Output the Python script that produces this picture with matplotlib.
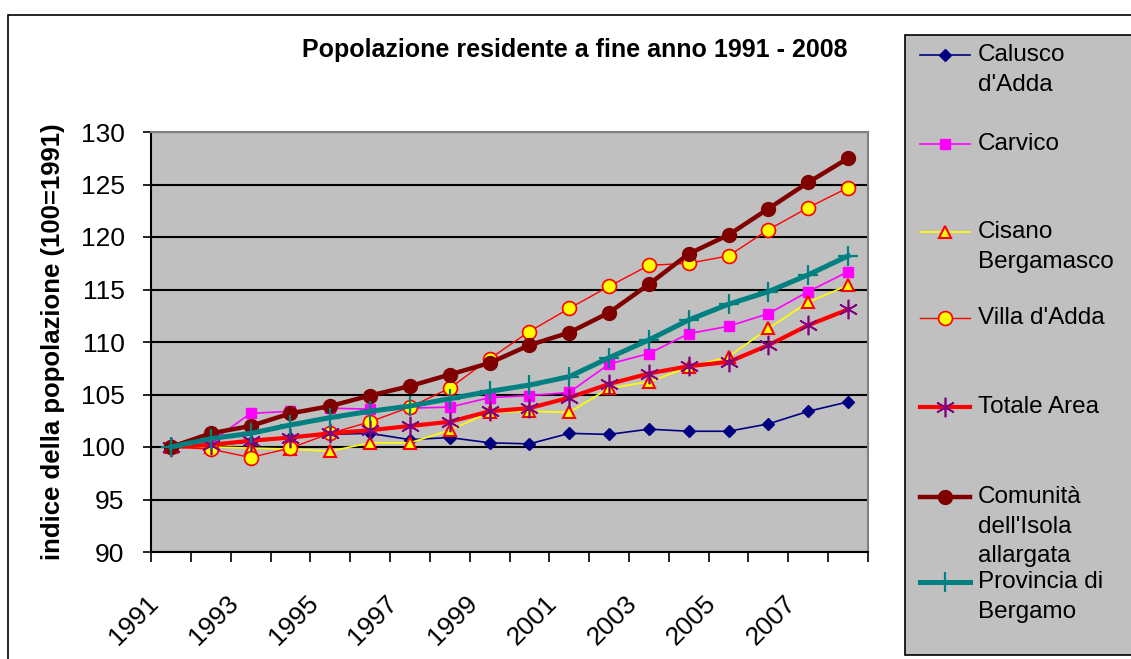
import numpy as np
import matplotlib
matplotlib.use("Agg")
import matplotlib.pyplot as plt
from matplotlib.lines import Line2D
from matplotlib.patches import Rectangle
from matplotlib.transforms import ScaledTranslation

plt.rcParams['font.family'] = ['Liberation Sans', 'DejaVu Sans']

# dati: indice della popolazione (100 = 1991)
years = list(range(1991, 2009))
calusco = [100.0, 100.1, 100.5, 100.9, 101.2, 101.3, 100.7, 100.9, 100.4,
           100.3, 101.3, 101.2, 101.7, 101.5, 101.5, 102.2, 103.4, 104.3]
carvico = [100.0, 100.5, 103.2, 103.4, 103.7, 103.6, 103.7, 103.8, 104.7,
           104.9, 105.2, 107.9, 108.9, 110.8, 111.5, 112.7, 114.8, 116.7]
cisano = [100.0, 100.0, 99.9, 99.8, 99.6, 100.4, 100.4, 101.6, 103.3,
          103.4, 103.3, 105.6, 106.2, 107.6, 108.6, 111.3, 113.8, 115.4]
villa = [100.0, 99.8, 99.0, 99.9, 101.3, 102.4, 103.8, 105.6, 108.4,
         111.0, 113.2, 115.3, 117.3, 117.5, 118.2, 120.7, 122.8, 124.7]
totale = [100.0, 100.2, 100.6, 100.9, 101.3, 101.6, 102.0, 102.4, 103.4,
          103.7, 104.7, 106.0, 107.0, 107.7, 108.1, 109.7, 111.6, 113.1]
comunita = [100.0, 101.3, 102.0, 103.2, 103.9, 104.9, 105.8, 106.9, 108.0,
            109.7, 110.9, 112.8, 115.5, 118.4, 120.2, 122.7, 125.2, 127.5]
provincia = [100.0, 100.8, 101.3, 102.1, 102.8, 103.4, 103.9, 104.6, 105.3,
             105.9, 106.7, 108.5, 110.2, 112.1, 113.6, 114.8, 116.4, 118.2]

labels = ["Calusco\nd'Adda", "Carvico", "Cisano\nBergamasco", "Villa d'Adda",
          "Totale Area", "Comunità\ndell'Isola\nallargata", "Provincia di\nBergamo"]

styles = [
    dict(color='#000080', lw=1.2, marker='D', ms=6, mfc='#000080', mec='#000080'),
    dict(color='#FF00FF', lw=1.2, marker='s', ms=7, mfc='#FF00FF', mec='#FF00FF'),
    dict(color='#FFFF00', lw=1.2, marker='^', ms=8, mfc='#FFFF00', mec='#FF0000', mew=1.5),
    dict(color='#FF0000', lw=1.0, marker='o', ms=10, mfc='#FFFF00', mec='#FF0000', mew=1.2),
    dict(color='#FF0000', lw=3.0, marker=(6, 2, 0), ms=14, mec='#800080', mew=1.2),
    dict(color='#800000', lw=3.2, marker='o', ms=10, mfc='#800000', mec='#800000'),
    dict(color='#008080', lw=3.6, marker='+', ms=15, mec='#008080', mew=1.6),
]
series = [calusco, carvico, cisano, villa, totale, comunita, provincia]

W, H = 1131, 659
fig = plt.figure(figsize=(W / 100, H / 100), dpi=100)


def px(x, y):
    return x / W, 1 - y / H


# cornice esterna
fig.patches.append(Rectangle(px(8, 700), 2, (700 - 15) / H, transform=fig.transFigure,
                             fill=False, edgecolor='black', lw=1.2))

l, t = px(151, 132)
r, b = px(868, 552)
ax = fig.add_axes([l, b, r - l, t - b])
ax.set_facecolor('#C0C0C0')

x = np.arange(len(years))
for vals, st in zip(series, styles):
    ax.plot(x, vals, **st)

ax.set_xlim(-0.5, len(years) - 0.5)
ax.set_ylim(90, 130)
ax.set_yticks(range(90, 131, 5))
ax.yaxis.grid(True, color='black', lw=1.5)
ax.set_axisbelow(True)
ax.tick_params(axis='y', length=6, width=1.2, pad=13, labelsize=19)

ax.set_xticks(x[::2])
ax.set_xticklabels([str(yv) for yv in years[::2]])
ax.set_xticks(np.arange(-0.5, len(years), 1), minor=True)
ax.tick_params(axis='x', which='major', length=0, pad=34, labelsize=19)
ax.tick_params(axis='x', which='minor', length=7, width=1.2)
off = ScaledTranslation(-0.16, 0, fig.dpi_scale_trans)
for lab in ax.get_xticklabels():
    lab.set_rotation(45)
    lab.set_ha('right')
    lab.set_va('center')
    lab.set_rotation_mode('anchor')
    lab.set_transform(lab.get_transform() + off)

for s in ['left', 'bottom']:
    ax.spines[s].set_color('black')
    ax.spines[s].set_linewidth(1.5)
for s in ['top', 'right']:
    ax.spines[s].set_color('#808080')
    ax.spines[s].set_linewidth(1.5)

ax.set_ylabel('indice della popolazione (100=1991)', fontsize=18.5, fontweight='bold',
              labelpad=11)

fig.text(*px(575, 50), 'Popolazione residente a fine anno 1991 - 2008',
         fontsize=18, fontweight='bold', ha='center', va='center')

# legenda
fig.patches.append(Rectangle(px(905, 655), 1, (655 - 35) / H, transform=fig.transFigure,
                             facecolor='#C0C0C0', edgecolor='black', lw=1.2))
leg_y = [55, 144, 232, 318, 407, 497, 582]
for ly, lab, st in zip(leg_y, labels, styles):
    xs = [920 / W, 945 / W, 970 / W]
    yy = 1 - ly / H
    fig.add_artist(Line2D(xs, [yy] * 3, transform=fig.transFigure, markevery=[1], **st))
    fig.text(978 / W, 1 - (ly - 11) / H, lab, fontsize=17.5, ha='left', va='top',
             linespacing=1.45)

fig.savefig('out.png', dpi=100)
